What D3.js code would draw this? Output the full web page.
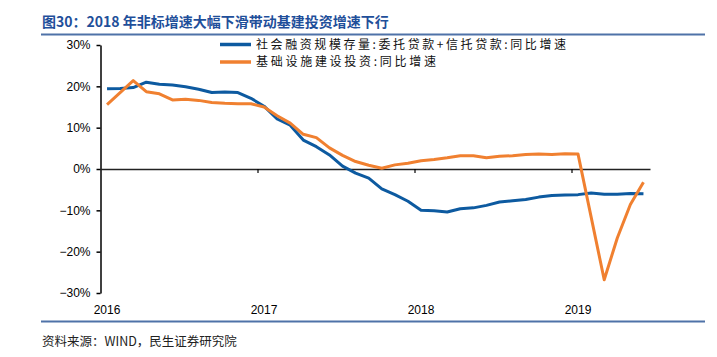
<!DOCTYPE html>
<html>
<head>
<meta charset="utf-8">
<script src="https://cdn.jsdelivr.net/npm/d3@7/dist/d3.min.js"></script>
<style>
  html, body { margin: 0; padding: 0; background: #fff; }
  svg { display: block; }
</style>
</head>
<body>
<svg id="chart" width="717" height="357"></svg>
<script>
// ---- data (monthly, 2016-01 .. 2019-06) ----
const months = [
  "2016-01","2016-02","2016-03","2016-04","2016-05","2016-06","2016-07","2016-08","2016-09","2016-10","2016-11","2016-12",
  "2017-01","2017-02","2017-03","2017-04","2017-05","2017-06","2017-07","2017-08","2017-09","2017-10","2017-11","2017-12",
  "2018-01","2018-02","2018-03","2018-04","2018-05","2018-06","2018-07","2018-08","2018-09","2018-10","2018-11","2018-12",
  "2019-01","2019-02","2019-03","2019-04","2019-05","2019-06"
];
const seriesNames = ["社会融资规模存量:委托贷款+信托贷款:同比增速", "基础设施建设投资:同比增速"];
const nonStandard = [
  19.4, 19.5, 19.7, 21.0, 20.5, 20.3, 19.9, 19.3, 18.5, 18.6, 18.5, 17.1,
  15.2, 12.1, 10.6, 7.0, 5.4, 3.4, 0.7, -1.0, -2.2, -4.8, -6.2, -7.8,
  -10.0, -10.1, -10.4, -9.6, -9.4, -8.8, -8.0, -7.7, -7.4, -6.8, -6.4, -6.3,
  -6.2, -5.8, -6.1, -6.1, -5.9, -6.0
];
const infra = [
  15.6, null, 21.4, 18.7, 18.2, 16.7, 16.9, 16.6, 16.1, 15.9, 15.8, 15.8,
  15.0, 12.9, 11.1, 8.4, 7.6, 5.1, 3.3, 1.8, 0.9, 0.2, 1.0, 1.4,
  2.0, 2.3, 2.7, 3.2, 3.2, 2.7, 3.1, 3.2, 3.5, 3.6, 3.5, 3.7,
  3.6, null, -26.8, -16.7, -8.6, -3.2
];
const yTicks = [-30, -20, -10, 0, 10, 20, 30];
const yearLabels = ["2016", "2017", "2018", "2019"];

const title = "图30：2018 年非标增速大幅下滑带动基建投资增速下行";
const source = "资料来源：WIND，民生证券研究院";

// ---- layout ----
const svg = d3.select("#chart");
const colBlue = "#0d5aa0";
const colOrange = "#f08030";
const ruleColor = "#4f72a8";
const cjk = "'Noto Sans CJK SC', 'Noto Sans', sans-serif";
const latin = "'Liberation Sans', Arial, sans-serif";

const x = d3.scaleLinear().domain([-0.5, months.length - 0.5]).range([100.5, 650]);
const y = d3.scaleLinear().domain([-30, 30]).range([293, 45]);

// title
svg.append("text")
  .attr("x", 42).attr("y", 27)
  .attr("font-family", cjk).attr("font-weight", "bold")
  .attr("font-size", 14).attr("fill", "#1f4f9a")
  .text(title);
svg.append("line").attr("x1", 41).attr("x2", 705).attr("y1", 34.5).attr("y2", 34.5)
  .attr("stroke", ruleColor).attr("stroke-width", 2);

// bottom rule + source
svg.append("line").attr("x1", 41).attr("x2", 705).attr("y1", 321.5).attr("y2", 321.5)
  .attr("stroke", ruleColor).attr("stroke-width", 2);
svg.append("text")
  .attr("x", 42).attr("y", 346)
  .attr("font-family", cjk).attr("font-size", 12.5).attr("fill", "#222")
  .text(source);

// y axis
const yAxis = d3.axisLeft(y).tickValues(yTicks).tickSize(4).tickSizeOuter(0).tickPadding(6)
  .tickFormat(d => (d < 0 ? "\u2212" + Math.abs(d) : d) + "%");
const gy = svg.append("g").attr("transform", `translate(${x(-0.5)},0)`).call(yAxis);
gy.select(".domain").attr("stroke", "#000").attr("stroke-width", 1.5);
gy.selectAll(".tick line").attr("stroke", "#000").attr("stroke-width", 1.5);
gy.selectAll(".tick text").attr("font-family", latin).attr("font-size", 12).attr("fill", "#000");

// x axis along zero line (year separators)
const yearSeps = [11.5, 23.5, 35.5];
const xAxis = d3.axisBottom(x).tickValues(yearSeps).tickSize(4).tickSizeOuter(0).tickFormat("");
const gx = svg.append("g").attr("transform", `translate(0,${y(0)})`).call(xAxis);
gx.select(".domain").attr("stroke", "#222").attr("stroke-width", 1.5);
gx.selectAll(".tick line").attr("stroke", "#000").attr("stroke-width", 1.2);

// year labels
svg.append("g").selectAll("text").data(yearLabels).join("text")
  .attr("x", (d, i) => x(months.indexOf(d + "-01")))
  .attr("y", 314)
  .attr("text-anchor", "middle")
  .attr("font-family", latin).attr("font-size", 12).attr("fill", "#000")
  .text(d => d);

// lines
const line = d3.line().x(d => x(d.i)).y(d => y(d.v));
function pts(arr) { return arr.map((v, i) => ({ i, v })).filter(d => d.v !== null); }

svg.append("path").datum(pts(nonStandard))
  .attr("d", line).attr("fill", "none")
  .attr("stroke", colBlue).attr("stroke-width", 3).attr("stroke-linejoin", "round");
svg.append("path").datum(pts(infra))
  .attr("d", line).attr("fill", "none")
  .attr("stroke", colOrange).attr("stroke-width", 3).attr("stroke-linejoin", "round");

// legend
const legend = svg.append("g");
const legendLen = [310, 180];
const legendY = [44.5, 62];
[colBlue, colOrange].forEach((c, i) => {
  const ly = legendY[i];
  legend.append("line").attr("x1", 220).attr("x2", 251).attr("y1", ly).attr("y2", ly)
    .attr("stroke", c).attr("stroke-width", 3.5);
  legend.append("text").attr("x", 256).attr("y", ly + 4.2)
    .attr("font-family", cjk).attr("font-size", 12).attr("fill", "#111")
    .attr("textLength", legendLen[i]).attr("lengthAdjust", "spacing")
    .text(seriesNames[i]);
});
</script>
</body>
</html>
